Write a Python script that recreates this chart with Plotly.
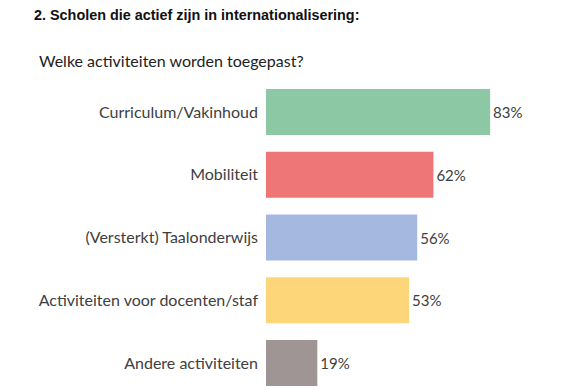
import plotly.graph_objects as go

categories = ["Curriculum/Vakinhoud", "Mobiliteit", "(Versterkt) Taalonderwijs",
              "Activiteiten voor docenten/staf", "Andere activiteiten"]
values = [83, 62, 56, 53, 19]
labels = ["83%", "62%", "56%", "53%", "19%"]
colors = ["#8CC8A3", "#EE7677", "#A5B8E0", "#FDD67A", "#A09595"]

title_text = "2. Scholen die actief zijn in internationalisering:"
subtitle_text = "Welke activiteiten worden toegepast?"

FONT = "Lato"
OFF = 8  # page body margin

L, T, PW, PH = 266 - OFF, 80 - OFF, 300, 310

fig = go.Figure(go.Bar(
    x=values, y=categories, orientation="h",
    marker=dict(color=colors, line=dict(width=0)),
    width=0.73,
    text=labels, textposition="outside",
    textfont=dict(family=FONT, size=15, color="#404040"),
    cliponaxis=False,
))

fig.update_layout(
    width=580, height=390,
    margin=dict(l=L, r=580 - L - PW, t=T, b=390 - T - PH),
    paper_bgcolor="white", plot_bgcolor="white",
    showlegend=False,
    xaxis=dict(range=[0, 111.1], visible=False, fixedrange=True),
    yaxis=dict(range=[4.43, -0.51], showgrid=False, zeroline=False, showline=False,
               tickfont=dict(family=FONT, size=16, color="#404040"),
               ticks="", ticklabelstandoff=7),
)
fig.add_annotation(text="<b>" + title_text + "</b>", xref="paper", yref="paper",
                   x=(32 - 266) / PW, y=1 + (80 - 15) / PH, xanchor="left", yanchor="middle",
                   showarrow=False, font=dict(family="Liberation Sans", size=14.4, color="#111111"))
fig.add_annotation(text=subtitle_text, xref="paper", yref="paper",
                   x=(37 - 266) / PW, y=1 + (80 - 60) / PH, xanchor="left", yanchor="middle",
                   showarrow=False, font=dict(family=FONT, size=16, color="#222222"))

fig.write_html("out.html")
